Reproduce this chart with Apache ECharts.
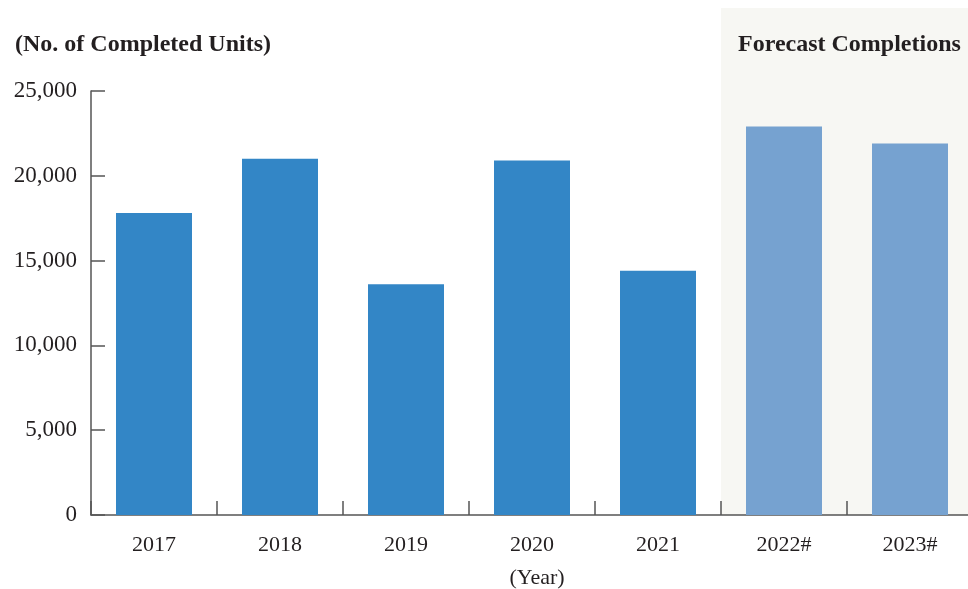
<!DOCTYPE html>
<html><head><meta charset="utf-8">
<script src="https://cdn.jsdelivr.net/npm/echarts@6/dist/echarts.min.js"></script>
<style>html,body{margin:0;padding:0;background:#fff;overflow:hidden}#c{width:973px;height:589px}</style>
</head><body><div id="c"></div>
<script>
var categories = ['2017','2018','2019','2020','2021','2022#','2023#'];
var actualValues = [17800, 21000, 13600, 20900, 14400, null, null];
var forecastValues = [null, null, null, null, null, 22900, 21900];
var yTicks = [0, 5000, 10000, 15000, 20000, 25000];

var F = '"Liberation Serif","Times New Roman",serif';
var chart = echarts.init(document.getElementById('c'), null, {renderer:'canvas'});
var opt = {
  animation:false,
  backgroundColor:'#fff',
  grid:{left:91, top:91, right:0, bottom:74, containLabel:false},
  title:[
    {text:'(No. of Completed Units)', left:10, top:28, textStyle:{fontFamily:F, fontSize:24, fontWeight:'bold', color:'#231f20'}},
    {text:'Forecast Completions', left:733, top:28, textStyle:{fontFamily:F, fontSize:24, fontWeight:'bold', color:'#231f20'}},
    {text:'(Year)', left:'532', top:562, textAlign:'center', textStyle:{fontFamily:F, fontSize:22, fontWeight:'normal', color:'#231f20'}}
  ],
  xAxis:{type:'category', data:categories,
    axisLine:{lineStyle:{color:'#555', width:1.5}},
    axisTick:{show:true, inside:true, length:14, alignWithLabel:false, interval:0, lineStyle:{color:'#555', width:1.5}},
    axisLabel:{fontFamily:F, fontSize:22, color:'#231f20', margin:19}
  },
  yAxis:{type:'value', min:yTicks[0], max:yTicks[yTicks.length-1], interval:5000,
    splitLine:{show:false},
    axisLine:{show:true, lineStyle:{color:'#555', width:1.5}},
    axisTick:{show:true, inside:true, length:14, lineStyle:{color:'#555', width:1.5}},
    axisLabel:{fontFamily:F, fontSize:23, color:'#231f20', margin:14,
      formatter:function(v){return v.toLocaleString('en-US');}}
  },
  series:[
    {type:'bar', data:actualValues, barWidth:76, barGap:'-100%', itemStyle:{color:'#3386c6'}, z:3},
    {type:'bar', data:forecastValues, barWidth:76, barGap:'-100%', itemStyle:{color:'#76a2d0'}, z:3}
  ]
};
chart.setOption(opt);
var catW = chart.convertToPixel({xAxisIndex:0}, categories[1]) - chart.convertToPixel({xAxisIndex:0}, categories[0]);
var x0 = chart.convertToPixel({xAxisIndex:0}, categories[5]) - catW/2;
var yBase = chart.convertToPixel({yAxisIndex:0}, 0);
chart.setOption({graphic:[{type:'rect', z:-10, silent:true, shape:{x:x0, y:8, width:973-x0, height:yBase-8}, style:{fill:'#f7f7f3'}}]});
</script></body></html>
